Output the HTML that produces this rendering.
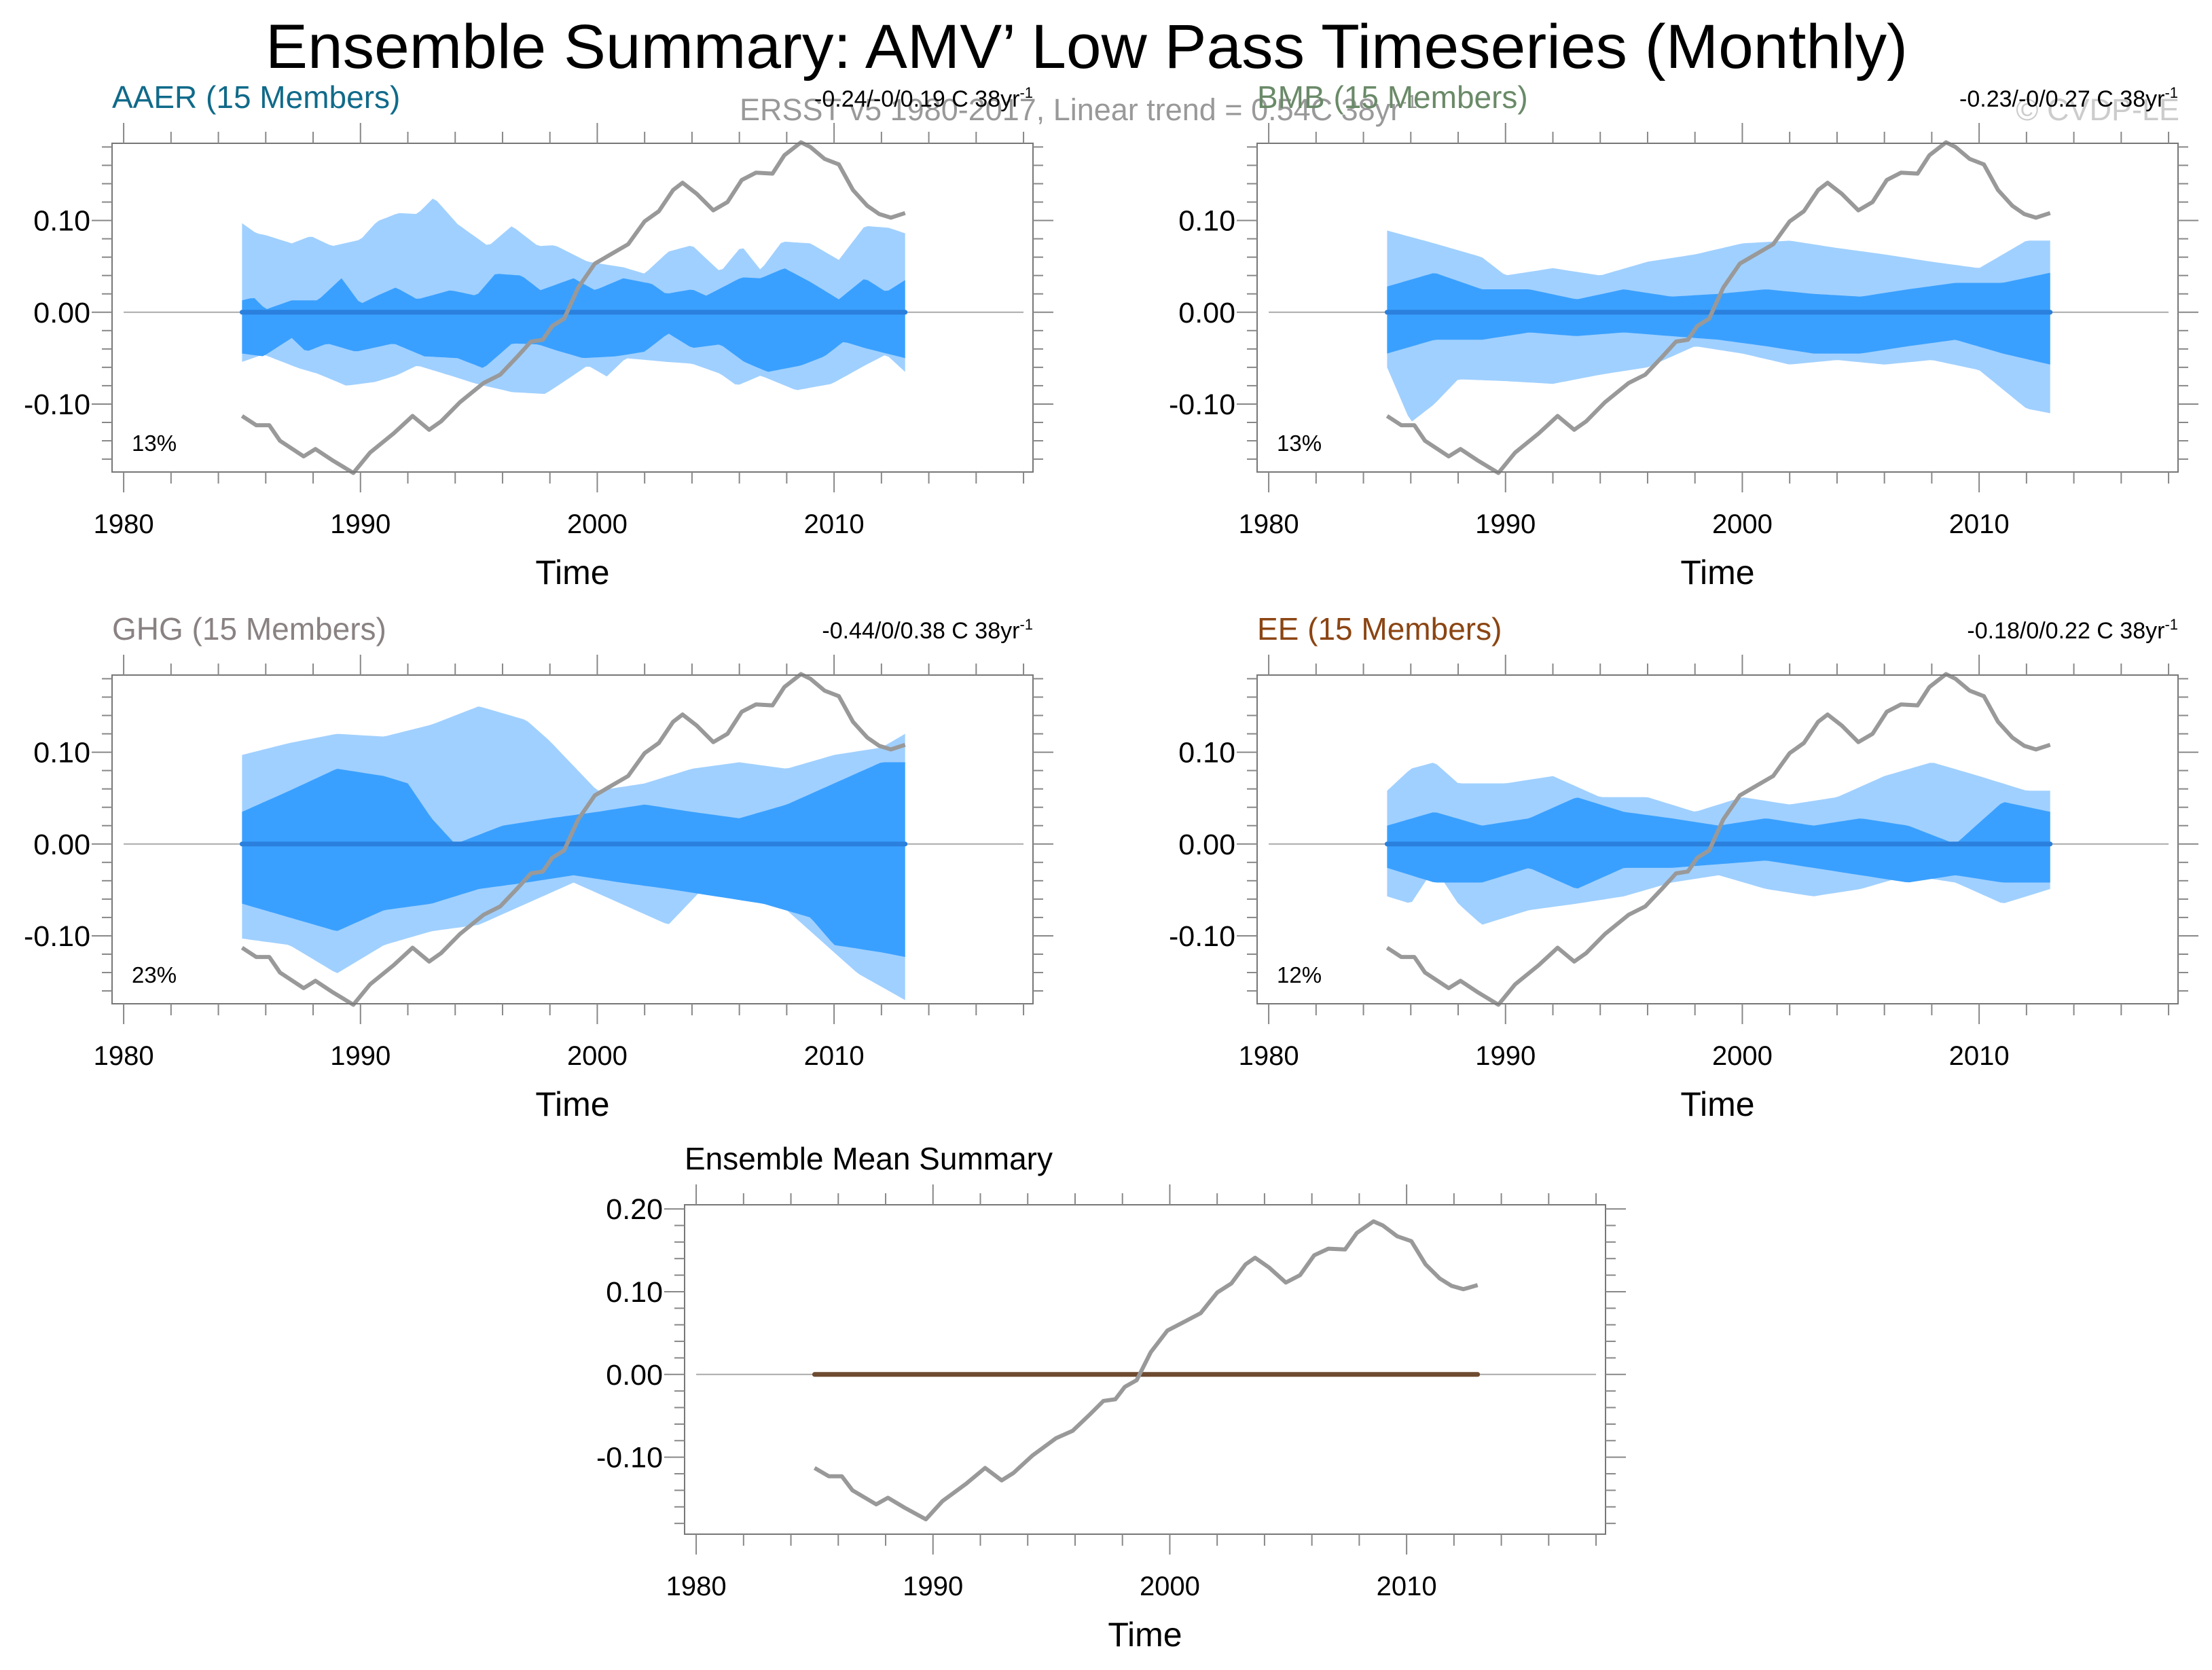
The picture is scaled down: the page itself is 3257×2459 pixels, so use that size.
<!DOCTYPE html>
<html><head><meta charset="utf-8"><style>
html,body{margin:0;padding:0;background:#fff}
svg{display:block}
text{font-family:"Liberation Sans",sans-serif}
</style></head><body>
<svg id="chart" width="3257" height="2459" viewBox="0 0 3257 2459" xmlns="http://www.w3.org/2000/svg">
<text x="1600" y="100" font-size="92" text-anchor="middle" textLength="2418" lengthAdjust="spacingAndGlyphs">Ensemble Summary: AMV’ Low Pass Timeseries (Monthly)</text>
<text x="1089" y="177" font-size="45" fill="#999" textLength="998" lengthAdjust="spacingAndGlyphs">ERSST v5 1980-2017, Linear trend = 0.54C 38yr<tspan font-size="28" dy="-18">-1</tspan></text>
<text x="3209" y="177" font-size="45" fill="#ccc" text-anchor="end">© CVDP-LE</text>
<g id="panels"></g>
</svg>
<script>
// Observed (ERSST) AMV low-pass series
const obsYears=[1985.0,1985.6,1986.15,1986.6,1987.6,1988.1,1988.8,1989.7,1990.4,1991.4,1992.2,1992.9,1993.4,1994.2,1995.2,1995.9,1996.6,1997.2,1997.7,1998.1,1998.6,1999.2,1999.9,2000.5,2001.3,2002.0,2002.6,2003.2,2003.6,2004.2,2004.9,2005.5,2006.1,2006.7,2007.4,2007.9,2008.6,2009.0,2009.6,2010.2,2010.8,2011.4,2011.9,2012.4,2013.0];
const obsValues=[-0.113,-0.123,-0.123,-0.140,-0.157,-0.149,-0.161,-0.175,-0.153,-0.132,-0.113,-0.128,-0.119,-0.098,-0.077,-0.068,-0.049,-0.032,-0.030,-0.015,-0.007,0.027,0.053,0.062,0.074,0.099,0.110,0.133,0.141,0.129,0.111,0.120,0.144,0.152,0.151,0.171,0.185,0.180,0.167,0.161,0.133,0.116,0.107,0.103,0.108];

// AAER bands
const aaerOuterUpYears=[1985.0,1985.6,1986.0,1987.1,1987.9,1988.8,1990.0,1990.7,1991.6,1992.4,1993.1,1994.1,1995.4,1996.4,1997.5,1998.2,1999.6,2001.1,2002.0,2003.0,2004.0,2005.2,2006.1,2006.9,2007.8,2009.0,2010.2,2011.3,2012.3,2013.0];
const aaerOuterUp=[0.097,0.086,0.084,0.075,0.083,0.072,0.079,0.099,0.108,0.107,0.125,0.096,0.072,0.094,0.072,0.073,0.055,0.049,0.042,0.066,0.073,0.044,0.072,0.046,0.077,0.075,0.057,0.094,0.092,0.086];
const aaerInnerUpYears=[1985.0,1985.5,1986.0,1987.1,1988.2,1989.2,1990.0,1990.7,1991.5,1992.4,1993.8,1994.9,1995.7,1996.8,1997.6,1999.0,1999.9,2001.1,2002.3,2002.9,2004.0,2004.6,2006.1,2006.9,2007.9,2009.0,2010.2,2011.3,2012.2,2013.0];
const aaerInnerUp=[0.013,0.016,0.003,0.013,0.013,0.037,0.009,0.018,0.027,0.014,0.024,0.018,0.042,0.040,0.024,0.037,0.024,0.037,0.031,0.020,0.025,0.018,0.038,0.037,0.048,0.033,0.014,0.037,0.022,0.035];
const aaerInnerLoYears=[1985.0,1985.9,1987.1,1987.7,1988.6,1989.8,1991.4,1992.7,1994.1,1995.2,1996.4,1997.5,1998.2,1999.4,2000.8,2002.0,2003.0,2004.0,2005.2,2006.2,2007.2,2008.6,2009.6,2010.4,2011.3,2013.0];
const aaerInnerLo=[-0.045,-0.048,-0.028,-0.043,-0.034,-0.043,-0.034,-0.048,-0.050,-0.061,-0.034,-0.035,-0.041,-0.050,-0.048,-0.043,-0.023,-0.039,-0.035,-0.054,-0.065,-0.058,-0.048,-0.032,-0.039,-0.050];
const aaerOuterLoYears=[1985.0,1985.9,1987.4,1988.2,1989.4,1990.6,1991.5,1992.4,1993.8,1994.9,1996.4,1997.8,1998.8,1999.6,2000.4,2001.2,2002.9,2004.0,2005.2,2005.9,2006.9,2008.4,2009.9,2011.3,2012.2,2013.0];
const aaerOuterLo=[-0.054,-0.046,-0.061,-0.067,-0.080,-0.076,-0.069,-0.058,-0.069,-0.078,-0.087,-0.089,-0.072,-0.058,-0.070,-0.050,-0.054,-0.056,-0.067,-0.080,-0.069,-0.085,-0.078,-0.058,-0.046,-0.065];

// BMB bands
const bmbOuterUpYears=[1985,1987,1989,1990,1992,1994,1996,1998,2000,2002,2004,2006,2008,2010,2012,2013];
const bmbOuterUp=[0.089,0.075,0.060,0.040,0.048,0.040,0.055,0.063,0.075,0.078,0.070,0.063,0.055,0.048,0.078,0.078];
const bmbInnerUpYears=[1985,1987,1989,1991,1993,1995,1997,1999,2001,2003,2005,2007,2009,2011,2013];
const bmbInnerUp=[0.028,0.043,0.025,0.025,0.014,0.025,0.017,0.020,0.025,0.020,0.017,0.025,0.032,0.032,0.043];
const bmbInnerLoYears=[1985,1987,1989,1991,1993,1995,1997,1999,2001,2003,2005,2007,2009,2011,2013];
const bmbInnerLo=[-0.045,-0.030,-0.030,-0.022,-0.026,-0.022,-0.026,-0.030,-0.037,-0.045,-0.045,-0.037,-0.030,-0.045,-0.057];
const bmbOuterLoYears=[1985,1986,1987,1988,1990,1992,1994,1996,1998,2000,2002,2004,2006,2008,2010,2012,2013];
const bmbOuterLo=[-0.060,-0.120,-0.100,-0.073,-0.075,-0.078,-0.068,-0.060,-0.037,-0.045,-0.057,-0.052,-0.057,-0.052,-0.063,-0.105,-0.110];

// GHG bands
const ghgOuterUpYears=[1985,1987,1989,1991,1993,1995,1997,1998,2000,2002,2004,2006,2008,2010,2012,2013];
const ghgOuterUp=[0.097,0.110,0.120,0.117,0.130,0.150,0.135,0.112,0.058,0.066,0.082,0.089,0.082,0.097,0.105,0.120];
const ghgInnerUpYears=[1985,1987,1989,1991,1992,1993,1994,1996,1998,2000,2002,2004,2006,2008,2010,2012,2013];
const ghgInnerUp=[0.035,0.058,0.082,0.074,0.066,0.028,0.000,0.020,0.028,0.035,0.043,0.035,0.028,0.043,0.066,0.089,0.089];
const ghgInnerLoYears=[1985,1987,1989,1991,1993,1995,1997,1999,2001,2003,2005,2007,2009,2010,2012,2013];
const ghgInnerLo=[-0.065,-0.080,-0.095,-0.072,-0.065,-0.049,-0.042,-0.034,-0.042,-0.049,-0.057,-0.065,-0.080,-0.110,-0.118,-0.123];
const ghgOuterLoYears=[1985,1987,1989,1991,1993,1995,1997,1999,2001,2003,2005,2007,2009,2011,2013];
const ghgOuterLo=[-0.103,-0.110,-0.141,-0.110,-0.095,-0.088,-0.065,-0.042,-0.065,-0.088,-0.034,-0.049,-0.095,-0.141,-0.170];

// EE bands
const eeOuterUpYears=[1985,1986,1987,1988,1990,1992,1994,1996,1998,2000,2002,2004,2006,2008,2010,2012,2013];
const eeOuterUp=[0.058,0.082,0.089,0.066,0.066,0.074,0.051,0.051,0.035,0.051,0.043,0.051,0.074,0.089,0.074,0.058,0.058];
const eeInnerUpYears=[1985,1987,1989,1991,1993,1995,1997,1999,2001,2003,2005,2007,2009,2011,2013];
const eeInnerUp=[0.020,0.035,0.020,0.028,0.051,0.035,0.028,0.020,0.028,0.020,0.028,0.020,0.000,0.046,0.035];
const eeInnerLoYears=[1985,1987,1989,1991,1993,1995,1997,1999,2001,2003,2005,2007,2009,2011,2013];
const eeInnerLo=[-0.026,-0.042,-0.042,-0.026,-0.049,-0.026,-0.026,-0.022,-0.018,-0.026,-0.034,-0.042,-0.034,-0.042,-0.042];
const eeOuterLoYears=[1985,1986,1987,1988,1989,1991,1993,1995,1997,1999,2001,2003,2005,2007,2009,2011,2013];
const eeOuterLo=[-0.057,-0.065,-0.026,-0.065,-0.088,-0.072,-0.065,-0.057,-0.042,-0.034,-0.049,-0.057,-0.049,-0.034,-0.042,-0.065,-0.049];

// Ensemble means (all zero) over 1985-2013
const meanYears=[1985,2013];
const meanValues=[0,0];
const yearTicks=[1980,1990,2000,2010];

const NS="http://www.w3.org/2000/svg";
const root=document.getElementById('panels');
function mk(tag,attrs,parent){const e=document.createElementNS(NS,tag);for(const k in attrs)e.setAttribute(k,attrs[k]);(parent||root).appendChild(e);return e;}
function interp(ys,vs,y){if(y<=ys[0])return vs[0];for(let i=1;i<ys.length;i++){if(y<=ys[i]){const t=(y-ys[i-1])/(ys[i]-ys[i-1]);return vs[i-1]+t*(vs[i]-vs[i-1]);}}return vs[vs.length-1];}
function bandPath(X,Y,uy,uv,ly,lv){
  const pts=[];const n=160;
  for(let i=0;i<=n;i++){const yr=1985+28*i/n;pts.push(X(yr).toFixed(1)+','+Y(interp(uy,uv,yr)).toFixed(1));}
  for(let i=n;i>=0;i--){const yr=1985+28*i/n;pts.push(X(yr).toFixed(1)+','+Y(interp(ly,lv,yr)).toFixed(1));}
  return 'M'+pts.join('L')+'Z';
}
function panel(cfg){
  const g=mk('g',{});
  
  
  const {l,r,t,b,ymin,ymax}=cfg;
  const x0=1979.51,x1=2018.4;
  const X=v=>l+(v-x0)/(x1-x0)*(r-l);
  const Y=v=>b-(v-ymin)/(ymax-ymin)*(b-t);
  if(cfg.bands){
    const B=cfg.bands;
    const o=mk('path',{d:bandPath(X,Y,B[0],B[1],B[6],B[7]),fill:'#a0d0ff'},g);
    
    
    const i=mk('path',{d:bandPath(X,Y,B[2],B[3],B[4],B[5]),fill:'#3aa0ff'},g);
    
    
  }
  const z=mk('line',{x1:X(1980),x2:X(2018),y1:Y(0),y2:Y(0),stroke:'#aaa','stroke-width':2},g);
  
  
  const m=mk('line',{x1:X(meanYears[0]),x2:X(meanYears[1]),y1:Y(meanValues[0]),y2:Y(meanValues[1]),stroke:cfg.meanColor,'stroke-width':7,'stroke-linecap':'round'},g);
  
  
  const ob=mk('polyline',{points:obsYears.map((yr,k)=>X(yr).toFixed(1)+','+Y(obsValues[k]).toFixed(1)).join(' '),fill:'none',stroke:'#999','stroke-width':6,'stroke-linejoin':'round'},g);
  
  
  const fr=mk('rect',{x:l,y:t,width:r-l,height:b-t,fill:'none',stroke:'#777','stroke-width':2},g);
  
  
  for(let yr=1980;yr<=2018;yr+=2){
    const major=yr%10===0,len=major?30:17,xx=X(yr);
    mk('line',{x1:xx,x2:xx,y1:t,y2:t-len,stroke:'#888','stroke-width':2},g);
    mk('line',{x1:xx,x2:xx,y1:b,y2:b+len,stroke:'#888','stroke-width':2},g);
  }
  yearTicks.forEach(yr=>{
    const tx=mk('text',{x:X(yr),y:b+90,'font-size':40,'text-anchor':'middle'},g);
    tx.textContent=yr;
    
    
  });
  for(let k=-20;k<=20;k++){
    const v=k*0.02; if(v<ymin-1e-9||v>ymax+1e-9)continue;
    const major=k%5===0,len=major?30:15,yy=Y(v);
    mk('line',{x1:l,x2:l-len,y1:yy,y2:yy,stroke:'#888','stroke-width':2},g);
    mk('line',{x1:r,x2:r+len,y1:yy,y2:yy,stroke:'#888','stroke-width':2},g);
    if(major){
      const tx=mk('text',{x:l-32,y:yy+15,'font-size':43,'text-anchor':'end'},g);
      tx.textContent=(v<0?'-':'')+Math.abs(v).toFixed(2);
      
      
    }
  }
  const xt=mk('text',{x:(l+r)/2,y:b+165,'font-size':50,'text-anchor':'middle'},g);
  xt.textContent='Time';
  
  
  const ti=mk('text',{x:l,y:t-52,'font-size':46,fill:cfg.titleColor},g);
  ti.textContent=cfg.title;
  
  
  if(cfg.range){
    const rt=mk('text',{x:r,y:t-54,'font-size':34,'text-anchor':'end'},g);
    rt.textContent=cfg.range;
    const sp=mk('tspan',{'font-size':22,dy:-13},rt);sp.textContent='-1';
    
    
  }
  if(cfg.pct){
    const pt=mk('text',{x:l+29,y:b-31,'font-size':33},g);
    pt.textContent=cfg.pct;
    
    
  }
}
panel({name:'aaer-panel',l:165,r:1521,t:211,b:695,ymin:-0.174,ymax:0.184,title:'AAER (15 Members)',titleColor:'#106a8a',range:'-0.24/-0/0.19 C 38yr',pct:'13%',meanColor:'#2a80dc',
  bands:[aaerOuterUpYears,aaerOuterUp,aaerInnerUpYears,aaerInnerUp,aaerInnerLoYears,aaerInnerLo,aaerOuterLoYears,aaerOuterLo]});
panel({name:'bmb-panel',l:1851,r:3207,t:211,b:695,ymin:-0.174,ymax:0.184,title:'BMB (15 Members)',titleColor:'#6a8a68',range:'-0.23/-0/0.27 C 38yr',pct:'13%',meanColor:'#2a80dc',
  bands:[bmbOuterUpYears,bmbOuterUp,bmbInnerUpYears,bmbInnerUp,bmbInnerLoYears,bmbInnerLo,bmbOuterLoYears,bmbOuterLo]});
panel({name:'ghg-panel',l:165,r:1521,t:994,b:1478,ymin:-0.174,ymax:0.184,title:'GHG (15 Members)',titleColor:'#8a8282',range:'-0.44/0/0.38 C 38yr',pct:'23%',meanColor:'#2a80dc',
  bands:[ghgOuterUpYears,ghgOuterUp,ghgInnerUpYears,ghgInnerUp,ghgInnerLoYears,ghgInnerLo,ghgOuterLoYears,ghgOuterLo]});
panel({name:'ee-panel',l:1851,r:3207,t:994,b:1478,ymin:-0.174,ymax:0.184,title:'EE (15 Members)',titleColor:'#8b4513',range:'-0.18/0/0.22 C 38yr',pct:'12%',meanColor:'#2a80dc',
  bands:[eeOuterUpYears,eeOuterUp,eeInnerUpYears,eeInnerUp,eeInnerLoYears,eeInnerLo,eeOuterLoYears,eeOuterLo]});
panel({name:'ensemble-mean-panel',l:1008,r:2364,t:1774,b:2259,ymin:-0.193,ymax:0.205,title:'Ensemble Mean Summary',titleColor:'#000',meanColor:'#6e4a30'});
</script>
</body></html>
